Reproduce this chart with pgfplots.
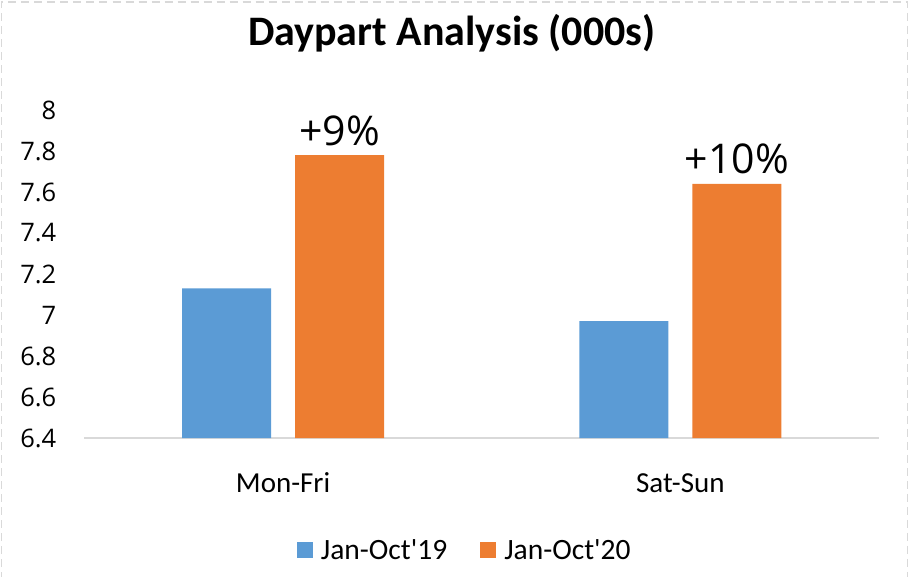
\documentclass[border=0pt]{standalone}
\usepackage{fontspec}
\setmainfont{Carlito}
\newfontfamily\numfont{Open Sans}
\usepackage{pgfplots}
\pgfplotsset{compat=1.18}

\definecolor{bblue}{HTML}{5B9BD5}
\definecolor{borange}{HTML}{ED7D31}
\definecolor{lgray}{HTML}{D9D9D9}

\begin{document}
\begin{tikzpicture}
\begin{axis}[
    scale only axis,
    width=794.5pt, height=328pt,
    ybar=24pt, bar width=89pt,
    xmin=-0.5, xmax=1.5,
    ymin=6.4, ymax=8,
    xtick={0,1}, xticklabels={Mon-Fri, Sat-Sun},
    ytick={6.4,6.6,...,8.01},
    yticklabels={6.4,6.6,6.8,7,7.2,7.4,7.6,7.8,8},
    axis x line=bottom, axis y line=left,
    x axis line style={-, draw=lgray, line width=1.5pt},
    y axis line style={draw=none},
    major tick length=0pt,
    clip=false,
    yticklabel style={font=\numfont\fontsize{25.5}{30}\selectfont, anchor=east, inner sep=0pt, xshift=-28pt},
    xticklabel style={font=\fontsize{29}{34}\selectfont, anchor=base, inner sep=0pt, yshift=-54pt},
    title={Daypart Analysis (000s)},
    title style={font=\bfseries\fontsize{42}{48}\selectfont, at={(rel axis cs:0.5,1)}, anchor=base, inner sep=0pt, yshift=58pt, xshift=-30pt},
    legend columns=2,
    legend style={draw=none, fill=none, at={(rel axis cs:0.5,0)}, anchor=center, xshift=-18pt, yshift=-112pt,
        font=\fontsize{29.5}{34}\selectfont, inner sep=0pt,
        nodes={inner xsep=0pt, inner ysep=3pt},
        /tikz/every odd column/.append style={column sep=8pt},
        /tikz/every even column/.append style={column sep=33pt}},
    legend image code/.code={\fill[#1] (0pt,-8pt) rectangle (16pt,8pt);},
]
\addplot[fill=bblue, draw=none] coordinates {(0,7.13) (1,6.97)};
\addplot[fill=borange, draw=none,
    nodes near coords, point meta=explicit symbolic,
    every node near coord/.append style={font=\numfont\fontsize{41}{46}\selectfont, anchor=base, inner sep=0pt, yshift=10pt}]
    coordinates {(0,7.78) [+9\%] (1,7.64) [+10\%]};
\legend{Jan-Oct\textquotesingle 19, Jan-Oct\textquotesingle 20}
\end{axis}
\draw[lgray, line width=1.2pt, dash pattern=on 8pt off 5pt]
    ([shift={(-83pt,-142pt)}]current axis.south west) rectangle ([shift={(823pt,436pt)}]current axis.south west);
\pgfresetboundingbox
\useasboundingbox ([shift={(-84.5pt,-139pt)}]current axis.south west) rectangle ([shift={(824.5pt,438pt)}]current axis.south west);
\end{tikzpicture}
\end{document}
